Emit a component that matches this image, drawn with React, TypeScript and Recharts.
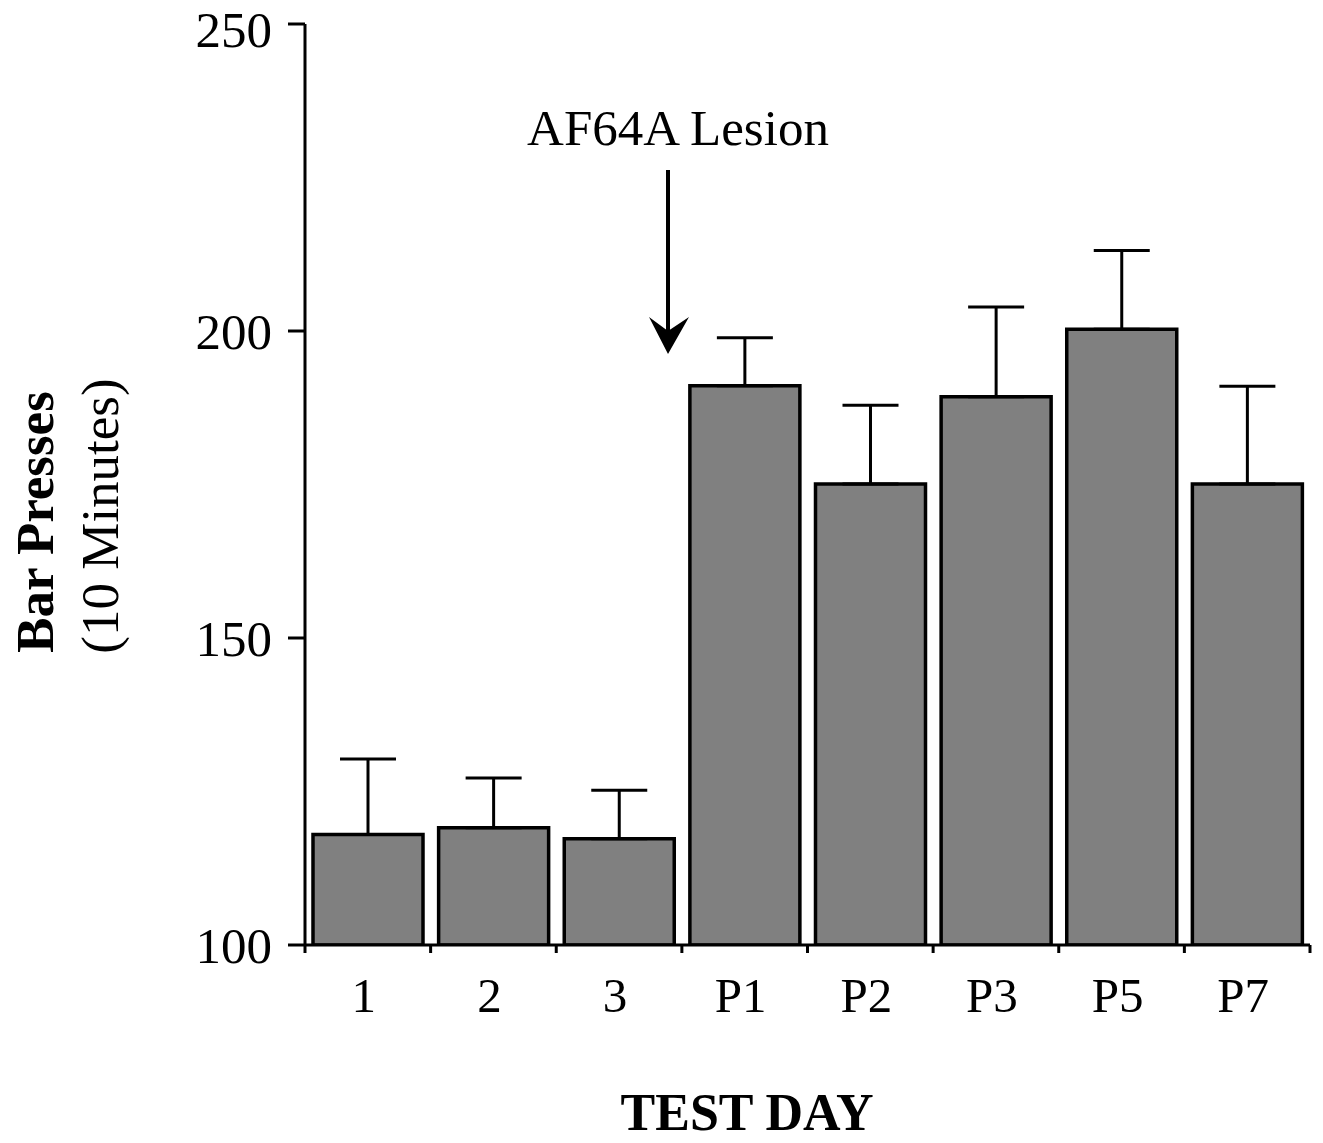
import React from "react";
import { BarChart, Bar, XAxis, YAxis, ErrorBar, Customized } from "recharts";

const DAYS = ["1", "2", "3", "P1", "P2", "P3", "P5", "P7"];
const MEAN_PRESSES = [118, 119.1, 117.3, 191.1, 175.1, 189.3, 200.3, 175.1];
const SEM_PRESSES = [12.3, 8.1, 7.9, 7.8, 12.8, 14.6, 12.8, 15.9];
const Y_TICKS = [100, 150, 200, 250];

const data = DAYS.map((day, i) => ({
  day,
  presses: MEAN_PRESSES[i],
  // upward-only error bar
  sem: [0, SEM_PRESSES[i]],
}));

const FONT = "'Liberation Serif', 'Times New Roman', serif";

function DayTick(props: any) {
  const { x, y, payload, index } = props;
  const half = payload.offset || 0;
  const last = index === DAYS.length - 1;
  return (
    <g>
      <line x1={x - half} y1={y} x2={x - half} y2={y + 8} stroke="#000" strokeWidth={3} />
      {last && <line x1={x + half} y1={y} x2={x + half} y2={y + 8} stroke="#000" strokeWidth={3} />}
      <text x={x - 4} y={y + 67} textAnchor="middle" fontFamily={FONT} fontSize={49} fill="#000">
        {payload.value}
      </text>
    </g>
  );
}

function Annotations() {
  return (
    <g fontFamily={FONT} fill="#000">
      <text x={678} y={145} textAnchor="middle" fontSize={51}>
        AF64A Lesion
      </text>
      <line x1={668} y1={170} x2={668} y2={335} stroke="#000" strokeWidth={4} />
      <polygon points="668,354 649,317 668,331 689,317" fill="#000" />
      <text x={53} y={522} textAnchor="middle" fontSize={53} fontWeight="bold" transform="rotate(-90 53 522)">
        Bar Presses
      </text>
      <text x={118} y={516} textAnchor="middle" fontSize={53} transform="rotate(-90 118 516)">
        (10 Minutes)
      </text>
      <text x={747} y={1130} textAnchor="middle" fontSize={52} fontWeight="bold">
        TEST DAY
      </text>
    </g>
  );
}

export default function App() {
  return (
    <div style={{ width: 1323, height: 1143, background: "#fff" }}>
      <style>{`body { margin: 0; }`}</style>
      <BarChart
        width={1323}
        height={1143}
        data={data}
        margin={{ top: 24, right: 13, bottom: 0, left: 0 }}
        barCategoryGap={8}
      >
        <XAxis
          dataKey="day"
          height={198}
          axisLine={{ stroke: "#000", strokeWidth: 3 }}
          tickLine={false}
          tickSize={0}
          tickMargin={0}
          tick={<DayTick />}
          interval={0}
        />
        <YAxis
          width={305}
          domain={[100, 250]}
          ticks={Y_TICKS}
          allowDataOverflow
          axisLine={{ stroke: "#000", strokeWidth: 3 }}
          tickLine={{ stroke: "#000", strokeWidth: 3 }}
          tickSize={17}
          tickMargin={16}
          tick={{ fill: "#000", fontSize: 51, fontFamily: FONT }}
        />
        <Bar dataKey="presses" fill="#808080" stroke="#000" strokeWidth={3.5} isAnimationActive={false}>
          <ErrorBar dataKey="sem" direction="y" width={28} stroke="#000" strokeWidth={3} isAnimationActive={false} />
        </Bar>
        <Customized component={<Annotations />} />
      </BarChart>
    </div>
  );
}
